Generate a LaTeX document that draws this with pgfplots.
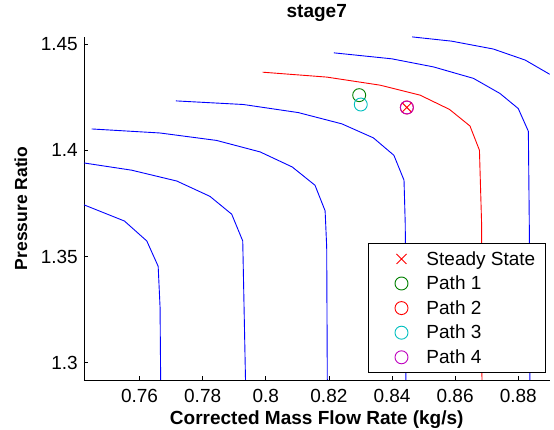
\documentclass[border=0pt]{standalone}
\usepackage{pgfplots}
\pgfplotsset{compat=1.18}
\usepackage{fontspec}
\setmainfont{Liberation Sans}
\definecolor{mgreen}{rgb}{0,0.5,0}
\definecolor{mcyan}{rgb}{0,0.75,0.75}
\definecolor{mmagenta}{rgb}{0.75,0,0.75}
\begin{document}
\begin{tikzpicture}
\path (-84pt,-50pt) rectangle (470pt,380pt);
\begin{axis}[
  at={(0pt,0pt)}, anchor=south west,
  scale only axis, width=465.5pt, height=343.3pt,
  xmin=0.7424, xmax=0.8899, ymin=1.2919, ymax=1.4534,
  axis lines=left, axis line style={-, line width=0.8pt, black},
  tick align=inside, major tick length=4pt,
  tick style={line width=0.8pt, black},
  xtick={0.76,0.78,0.80,0.82,0.84,0.86,0.88},
  ytick={1.3,1.35,1.4,1.45},
  /pgf/number format/assume math mode=true,
  /pgf/number format/fixed, /pgf/number format/precision=2,
  ticklabel style={font=\fontsize{19}{22}\selectfont},
  yticklabel style={anchor=east, inner sep=0pt, xshift=-6pt},
  xticklabel style={anchor=north, inner sep=0pt, yshift=-9pt},
  xlabel={Corrected Mass Flow Rate (kg/s)},
  ylabel={Pressure Ratio},
  xlabel style={at={(axis description cs:0.5,-0.1282)}, anchor=base, inner sep=0pt, font=\fontsize{19}{22}\selectfont\bfseries},
  ylabel style={at={(axis description cs:-0.1224,0.5)}, anchor=base, rotate=0, inner sep=0pt, font=\fontsize{17.5}{20}\selectfont\bfseries},
  title={stage7},
  title style={at={(axis description cs:0.5,1.037)}, anchor=base, inner sep=0pt, font=\fontsize{19}{22}\selectfont\bfseries},
  legend style={at={(axis description cs:0.9914,0.0204)}, anchor=south east,
    draw=black, line width=0.8pt, inner xsep=0pt, inner ysep=3pt,
    font=\fontsize{19}{22}\selectfont, row sep=0pt,
    nodes={inner sep=0pt}},
  legend cell align=left,
  legend image code/.code={\path[draw=none,fill=none] (-33pt,-12.3pt) rectangle (25pt,12.3pt); \draw[#1] plot coordinates {(0pt,0pt)};},
  every axis plot/.append style={line width=0.9pt},
]
\addplot[blue, forget plot] coordinates {(0.7424,1.3743) (0.7552,1.3667) (0.7623,1.3573) (0.7659,1.3454) (0.7665,1.3262) (0.7667,1.29)};
\addplot[blue, forget plot] coordinates {(0.7424,1.3940) (0.7575,1.3906) (0.7718,1.3855) (0.7823,1.3783) (0.7892,1.3699) (0.7927,1.3573) (0.7936,1.29)};
\addplot[blue, forget plot] coordinates {(0.7448,1.4100) (0.7665,1.4081) (0.7844,1.4046) (0.7982,1.3992) (0.8084,1.3921) (0.8156,1.3835) (0.8188,1.3715) (0.8193,1.3545) (0.8195,1.29)};
\addplot[blue, forget plot] coordinates {(0.7715,1.4232) (0.7929,1.4215) (0.8103,1.4177) (0.8241,1.4124) (0.8341,1.4058) (0.8406,1.3976) (0.8438,1.3859) (0.8442,1.3647) (0.8444,1.29)};
\addplot[red, forget plot] coordinates {(0.7990,1.4367) (0.8193,1.4344) (0.8362,1.4306) (0.8489,1.4259) (0.8582,1.4192) (0.8647,1.4114) (0.8677,1.4000) (0.8684,1.3647) (0.8685,1.29)};
\addplot[blue, forget plot] coordinates {(0.8216,1.4458) (0.8399,1.4430) (0.8531,1.4392) (0.8658,1.4338) (0.8742,1.4267) (0.8800,1.4196) (0.8832,1.4089) (0.8835,1.3647) (0.8837,1.29)};
\addplot[blue, forget plot] coordinates {(0.8464,1.4533) (0.8589,1.4513) (0.8721,1.4476) (0.8822,1.4424) (0.8901,1.4356)};
\addplot[red, only marks, mark=x, mark size=7pt, line width=0.9pt] coordinates {(0.8447,1.4201)};
\addlegendentry{Steady State\hspace*{9.8pt}}
\addplot[mgreen, only marks, mark=o, mark size=6.5pt, line width=0.9pt] coordinates {(0.8296,1.4259)};
\addlegendentry{Path 1}
\addplot[red, only marks, mark=o, mark size=6.5pt, line width=0.9pt] coordinates {(0.8447,1.4201)};
\addlegendentry{Path 2}
\addplot[mcyan, only marks, mark=o, mark size=6.5pt, line width=0.9pt] coordinates {(0.8301,1.4215)};
\addlegendentry{Path 3}
\addplot[mmagenta, only marks, mark=o, mark size=6.5pt, line width=0.9pt] coordinates {(0.8447,1.4201)};
\addlegendentry{Path 4}
\end{axis}
\end{tikzpicture}
\end{document}
